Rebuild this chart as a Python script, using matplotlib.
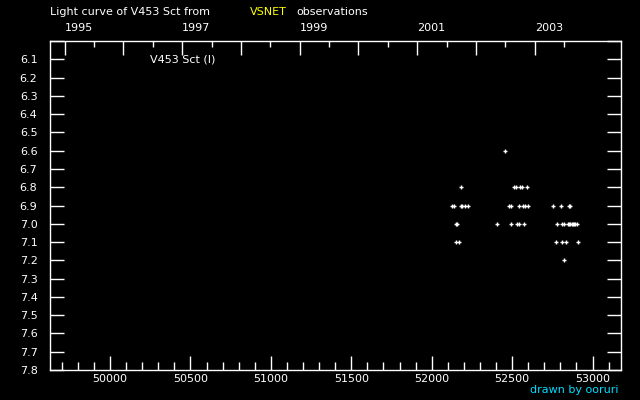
import numpy as np
import matplotlib
matplotlib.use("Agg")
import matplotlib.pyplot as plt
from matplotlib.ticker import MultipleLocator, FixedLocator

# observations (MJD, magnitude)
mjd = [52458,
       52185, 52512, 52525, 52550, 52564, 52595,
       52129, 52141, 52181, 52187, 52209, 52228, 52481, 52495, 52545,
       52570, 52582, 52601, 52757, 52806, 52852, 52862,
       52152, 52160, 52409, 52494, 52533, 52541, 52576, 52781, 52810,
       52821, 52846, 52855, 52863, 52870, 52878, 52886, 52894, 52902,
       52154, 52170, 52775, 52813, 52832, 52912,
       52825]
mag = [6.6,
       6.8, 6.8, 6.8, 6.8, 6.8, 6.8,
       6.9, 6.9, 6.9, 6.9, 6.9, 6.9, 6.9, 6.9, 6.9,
       6.9, 6.9, 6.9, 6.9, 6.9, 6.9, 6.9,
       7.0, 7.0, 7.0, 7.0, 7.0, 7.0, 7.0, 7.0, 7.0,
       7.0, 7.0, 7.0, 7.0, 7.0, 7.0, 7.0, 7.0, 7.0,
       7.1, 7.1, 7.1, 7.1, 7.1, 7.1,
       7.2]

year_labels = [1995, 1997, 1999, 2001, 2003]
mjd_1995 = 49718.0  # MJD of 1995 Jan 1


def year_to_mjd(y):
    return mjd_1995 + (np.asarray(y, dtype=float) - 1995) * 365.25


plt.rcParams['font.family'] = ['DejaVu Sans']
fig = plt.figure(figsize=(6.4, 4.0), dpi=100, facecolor='black')
ax = fig.add_axes([50 / 640, 30 / 400, 571 / 640, 329 / 400])
ax.set_facecolor('black')

ax.plot(mjd, mag, ls='none', marker='+', ms=3.5, mew=1, color='white')

ax.set_xlim(49627, 53177)
ax.set_ylim(7.8, 6.0)

for s in ax.spines.values():
    s.set_color('white')
    s.set_linewidth(1)

ax.xaxis.set_major_locator(MultipleLocator(500))
ax.xaxis.set_minor_locator(MultipleLocator(100))
ax.yaxis.set_major_locator(MultipleLocator(0.1))
ax.yaxis.set_major_formatter(plt.FuncFormatter(
    lambda v, p: '' if v < 6.05 else f'{v:.1f}'))
ax.tick_params(axis='x', which='major', direction='in', length=10, width=1,
               colors='white', labelsize=8, pad=3, top=False)
ax.tick_params(axis='x', which='minor', direction='in', length=6, width=1,
               colors='white', top=False)
ax.tick_params(axis='y', which='major', direction='in', length=10, width=1,
               colors='white', labelsize=8, pad=9, right=True)

# year axis on top
ax2 = ax.twiny()
ax2.set_xlim(ax.get_xlim())
for s in ax2.spines.values():
    s.set_visible(False)
ax2.xaxis.set_major_locator(FixedLocator(year_to_mjd(year_labels)))
ax2.xaxis.set_major_formatter(plt.FixedFormatter([str(y) for y in year_labels]))
ax2.xaxis.set_minor_locator(FixedLocator(year_to_mjd(np.arange(1996, 2004))))
ax2.tick_params(axis='x', which='major', direction='in', length=10, width=1,
                colors='white', labelsize=8, pad=6)
ax2.tick_params(axis='x', which='minor', direction='in', length=10, width=1,
                colors='white')
for lab in ax2.get_xticklabels():
    lab.set_horizontalalignment('left')

# short half-year ticks on a third axis
ax3 = ax.twiny()
ax3.set_xlim(ax.get_xlim())
for s in ax3.spines.values():
    s.set_visible(False)
ax3.xaxis.set_major_locator(FixedLocator(year_to_mjd(np.arange(1995.5, 2004.0, 1.0))))
ax3.xaxis.set_major_formatter(plt.NullFormatter())
ax3.tick_params(axis='x', which='major', direction='in', length=4, width=1,
                colors='white')

fig.text(50 / 640, 1 - 12 / 400, 'Light curve of V453 Sct from', color='white',
         fontsize=8, va='center', ha='left')
fig.text(250 / 640, 1 - 12 / 400, 'VSNET', color='yellow',
         fontsize=8, va='center', ha='left')
fig.text(296 / 640, 1 - 12 / 400, 'observations', color='white',
         fontsize=8, va='center', ha='left')
fig.text(150 / 640, 1 - 60 / 400, 'V453 Sct (I)', color='white',
         fontsize=8, va='center', ha='left')
fig.text(618 / 640, 1 - 390 / 400, 'drawn by ooruri', color='#00ddff',
         fontsize=8, va='center', ha='right')

fig.savefig('out.png', dpi=100, facecolor='black')
